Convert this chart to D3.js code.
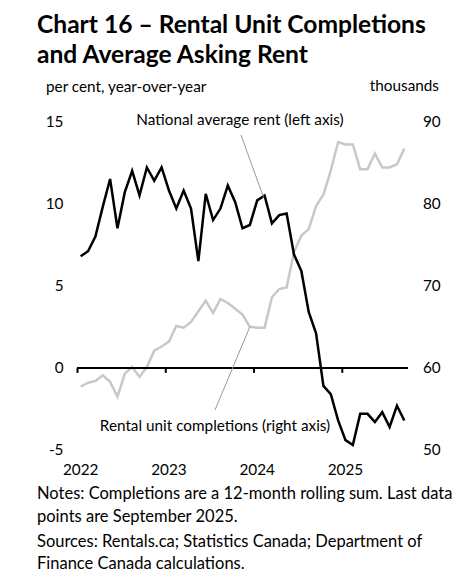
<!DOCTYPE html>
<html>
<head>
<meta charset="UTF-8">
<title>Chart 16</title>
<script src="https://d3js.org/d3.v7.min.js"></script>
<style>
  body { margin: 0; background: #fff; }
  text { font-family: Lato, "Open Sans", sans-serif; fill: #000; }
</style>
</head>
<body>
<svg id="chart" width="469" height="582"></svg>
<script>
// months from Jan 2022 to Sep 2025
var months = d3.range(45);
var yearTicks = [0, 12, 24, 36];
var yearLabels = ["2022", "2023", "2024", "2025"];
var leftTicks = [15, 10, 5, 0, -5];
var rightTicks = [90, 80, 70, 60, 50];

// national average asking rent, per cent y/y
var rent = [6.8, 7.1, 8.0, 9.8, 11.5, 8.5, 10.7, 12.0, 10.5, 12.2, 11.4, 12.2,
            10.8, 9.7, 10.8, 9.7, 6.5, 10.6, 9.0, 9.7, 11.1, 10.1, 8.5, 8.7,
            10.2, 10.5, 8.8, 9.3, 9.4, 6.9, 5.9, 3.4, 2.1, -1.1, -1.6, -3.2,
            -4.4, -4.7, -2.8, -2.8, -3.3, -2.7, -3.6, -2.3, -3.2];

// rental unit completions, 12-month rolling sum, thousands
var completions = [57.7, 58.2, 58.4, 59.1, 58.3, 56.5, 59.3, 60.1, 58.9, 60.1, 62.1, 62.6,
                   63.2, 65.1, 64.9, 65.6, 66.9, 68.2, 66.7, 68.4, 67.9, 67.2, 66.5, 65.0,
                   64.9, 64.9, 68.6, 69.6, 69.8, 74.1, 76.1, 76.9, 79.7, 81.1, 84.0, 87.5,
                   87.2, 87.2, 84.2, 84.2, 86.1, 84.4, 84.4, 84.8, 86.7];

var svg = d3.select("#chart");
var fs = "15.3px";

var x = d3.scaleLinear().domain([0, 45]).range([77, 408]);
var yL = d3.scaleLinear().domain([-5, 15]).range([450, 121.5]);
var yR = d3.scaleLinear().domain([50, 90]).range([450, 121.5]);

// title
var title = svg.append("text")
    .attr("x", 37).attr("y", 33)
    .style("font-size", "24.6px").style("font-weight", "bold");
title.append("tspan").attr("x", 37).attr("dy", 0).text("Chart 16 \u2013 Rental Unit Completions");
title.append("tspan").attr("x", 37).attr("dy", 29.5).text("and Average Asking Rent");

// axis titles
svg.append("text").attr("x", 46).attr("y", 92)
    .style("font-size", fs).text("per cent, year-over-year");
svg.append("text").attr("x", 439).attr("y", 91)
    .attr("text-anchor", "end")
    .style("font-size", fs).text("thousands");

// left and right tick labels
svg.selectAll(".lt").data(leftTicks).enter().append("text")
    .attr("x", 63.5).attr("y", function (d) { return yL(d); })
    .attr("dy", "0.35em").attr("text-anchor", "end")
    .style("font-size", fs).text(function (d) { return d; });

svg.selectAll(".rt").data(rightTicks).enter().append("text")
    .attr("x", 423).attr("y", function (d) { return yR(d); })
    .attr("dy", "0.35em")
    .style("font-size", fs).text(function (d) { return d; });

// year labels, centred on January
svg.selectAll(".yr").data(yearTicks).enter().append("text")
    .attr("x", function (d) { return x(d + 0.5); }).attr("y", 475)
    .attr("text-anchor", "middle")
    .style("font-size", fs).text(function (d, i) { return yearLabels[i]; });

// completions (right axis)
var lineR = d3.line()
    .x(function (d, i) { return x(i + 0.5); })
    .y(function (d) { return yR(d); });
svg.append("path").datum(completions)
    .attr("d", lineR)
    .attr("fill", "none").attr("stroke", "#c8c8c8")
    .attr("stroke-width", 2.5).attr("stroke-linejoin", "miter");

// zero axis
var xAxis = d3.axisBottom(x).tickValues(yearTicks).tickSize(5).tickFormat("");
var ax = svg.append("g").attr("transform", "translate(0," + yL(0) + ")").call(xAxis);
ax.select(".domain").attr("stroke", "#000").attr("stroke-width", 2)
    .attr("d", "M" + x(0) + ",0H" + x(45));
ax.selectAll(".tick line").attr("stroke", "#000").attr("stroke-width", 2);

// rent (left axis)
var lineL = d3.line()
    .x(function (d, i) { return x(i + 0.5); })
    .y(function (d) { return yL(d); });
svg.append("path").datum(rent)
    .attr("d", lineL)
    .attr("fill", "none").attr("stroke", "#000")
    .attr("stroke-width", 2.5).attr("stroke-linejoin", "miter");

// annotations
svg.append("line")
    .attr("x1", 241).attr("y1", 135)
    .attr("x2", x(25.5) - 1).attr("y2", yL(rent[25]) + 2)
    .attr("stroke", "#999").attr("stroke-width", 1);
svg.append("text").attr("x", 240).attr("y", 125)
    .attr("text-anchor", "middle")
    .style("font-size", fs).text("National average rent (left axis)");

svg.append("line")
    .attr("x1", 215).attr("y1", 410)
    .attr("x2", x(23.5)).attr("y2", yR(completions[23]))
    .attr("stroke", "#999").attr("stroke-width", 1);
svg.append("text").attr("x", 215).attr("y", 431)
    .attr("text-anchor", "middle")
    .style("font-size", fs).text("Rental unit completions (right axis)");

// notes
var notes = [
    {t: "Notes: Completions are a 12-month rolling sum. Last data", y: 499},
    {t: "points are September 2025.", y: 522},
    {t: "Sources: Rentals.ca; Statistics Canada; Department of", y: 547},
    {t: "Finance Canada calculations.", y: 569}
];
svg.selectAll(".note").data(notes).enter().append("text")
    .attr("x", 37).attr("y", function (d) { return d.y; })
    .style("font-size", "16.5px").text(function (d) { return d.t; });
</script>
</body>
</html>
